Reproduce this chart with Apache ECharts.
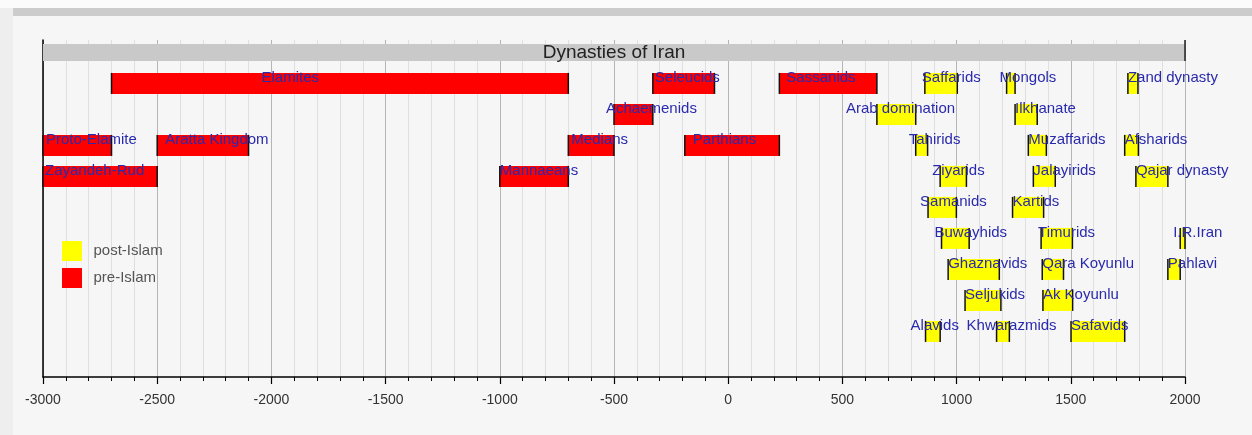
<!DOCTYPE html>
<html>
<head>
<meta charset="utf-8">
<script src="https://cdn.jsdelivr.net/npm/echarts@6/dist/echarts.min.js"></script>
<style>
html,body{margin:0;padding:0;background:#f6f6f6;}
#chart{width:1252px;height:435px;}
</style>
</head>
<body>
<div id="chart"></div>
<script>
// ---- Data ----
const chartTitle = 'Dynasties of Iran';
const periodStart = -3000;
const periodEnd = 2000;

const preNames = ['Proto-Elamite','Zayandeh-Rud','Aratta Kingdom','Elamites','Mannaeans','Medians','Achaemenids','Seleucids','Parthians','Sassanids'];
const preStart = [-3000, -3000, -2500, -2700, -1000, -700, -500, -330, -190, 224];
const preEnd   = [-2700, -2500, -2100, -700, -700, -500, -330, -60, 224, 651];
const preRow   = [3, 4, 3, 1, 4, 3, 2, 1, 3, 1];

const postNames = ['Arab domination','Tahirids','Saffarids','Alavids','Samanids','Ziyarids','Buwayhids','Ghaznavids','Seljukids','Khwarazmids','Mongols','Ilkhanate','Kartids','Muzaffarids','Jalayirids','Timurids','Qara Koyunlu','Ak Koyunlu','Safavids','Afsharids','Zand dynasty','Qajar dynasty','Pahlavi','I.R.Iran'];
const postStart = [651, 821, 861, 864, 875, 928, 934, 963, 1037, 1175, 1219, 1256, 1245, 1314, 1336, 1370, 1375, 1378, 1501, 1736, 1750, 1785, 1925, 1979];
const postEnd   = [821, 873, 1003, 928, 999, 1043, 1055, 1187, 1194, 1231, 1256, 1353, 1381, 1393, 1432, 1507, 1468, 1508, 1736, 1796, 1794, 1925, 1979, 2000];
const postRow   = [2, 3, 1, 9, 5, 4, 6, 7, 8, 9, 1, 2, 5, 3, 4, 6, 7, 8, 9, 3, 1, 4, 7, 6];

const legendNames = ['post-Islam', 'pre-Islam'];

// ---- Label placement (pixel shift of text relative to bar start) ----
const labelShiftPx = {
  'Proto-Elamite': 3, 'Zayandeh-Rud': 2, 'Aratta Kingdom': 8, 'Elamites': 150,
  'Medians': 3, 'Achaemenids': -8, 'Seleucids': 2, 'Parthians': 8, 'Sassanids': 7,
  'Arab domination': -31, 'Tahirids': -7, 'Saffarids': -3, 'Ziyarids': -8,
  'Samanids': -8, 'Buwayhids': -7, 'Alavids': -15, 'Khwarazmids': -30,
  'Mongols': -7, 'Timurids': -3, 'I.R.Iran': -7
};

const FONT = '"Liberation Sans", Arial, Helvetica, sans-serif';
const LABEL_COLOR = '#2a2aad';

function makeRender(names, fill) {
  return function (params, api) {
    const s = api.coord([api.value(0), api.value(2)]);
    const e = api.coord([api.value(1), api.value(2)]);
    const rowH = api.size([0, 1])[1];
    const h = rowH * 21 / 31;
    const top = s[1] - h / 2;
    const name = names[params.dataIndex];
    const shift = labelShiftPx[name] || 0;
    return {
      type: 'group',
      children: [
        { type: 'rect', shape: { x: s[0], y: top, width: e[0] - s[0], height: h }, style: { fill: fill }, z2: 1 },
        { type: 'line', shape: { x1: s[0], y1: top, x2: s[0], y2: top + h }, style: { stroke: '#111', lineWidth: 1.5 }, z2: 2 },
        { type: 'line', shape: { x1: e[0], y1: top, x2: e[0], y2: top + h }, style: { stroke: '#111', lineWidth: 1.5 }, z2: 2 },
        { type: 'text', x: s[0] + shift, y: s[1] - rowH * 5.5 / 31,
          style: { text: name, fill: LABEL_COLOR, font: '15px ' + FONT, textAlign: 'left', textVerticalAlign: 'middle' }, z2: 100 }
      ]
    };
  };
}

function renderTitle(params, api) {
  const s = api.coord([api.value(0), api.value(2)]);
  const e = api.coord([api.value(1), api.value(2)]);
  const rowH = api.size([0, 1])[1];
  const h = rowH * 17 / 31;
  const top = s[1] - h / 2;
  return {
    type: 'group',
    children: [
      { type: 'rect', shape: { x: s[0], y: top, width: e[0] - s[0], height: h }, style: { fill: '#c9c9c9' }, z2: 1 },
      { type: 'line', shape: { x1: e[0], y1: top - 4, x2: e[0], y2: top + h }, style: { stroke: '#222', lineWidth: 1.5 }, z2: 2 },
      { type: 'text', x: (s[0] + e[0]) / 2, y: s[1],
        style: { text: chartTitle, fill: '#222', font: '19px ' + FONT, textAlign: 'center', textVerticalAlign: 'middle' }, z2: 100 }
    ]
  };
}

const chart = echarts.init(document.getElementById('chart'), null, { renderer: 'canvas' });
chart.setOption({
  backgroundColor: '#f6f6f6',
  animation: false,
  graphic: [
    { type: 'rect', left: 0, top: 0, shape: { width: 1252, height: 8 }, style: { fill: '#fbfbfb' }, silent: true, z: -10 },
    { type: 'rect', left: 13, top: 8, shape: { width: 1239, height: 8 }, style: { fill: '#cccccc' }, silent: true, z: -10 },
    { type: 'rect', left: 0, top: 8, shape: { width: 13, height: 427 }, style: { fill: '#eeeeee' }, silent: true, z: -10 }
  ],
  grid: { left: 43, right: 67, top: 40, bottom: 58, containLabel: false },
  legend: {
    data: legendNames,
    orient: 'vertical',
    left: 57, top: 236,
    itemWidth: 20, itemHeight: 20, itemGap: 7,
    icon: 'rect',
    textStyle: { fontSize: 15, color: '#555', fontFamily: FONT, padding: [0, 0, 0, 6.5] },
    selectedMode: false
  },
  xAxis: {
    type: 'value',
    min: periodStart, max: periodEnd, interval: 500,
    axisLine: { show: true, onZero: false, lineStyle: { color: '#000', width: 1.5 } },
    axisTick: { show: true, length: 7, lineStyle: { color: '#000', width: 1.2 } },
    minorTick: { show: true, splitNumber: 5, length: 4, lineStyle: { color: '#000', width: 1 } },
    splitLine: { show: true, lineStyle: { color: '#b5b5b5', width: 1 } },
    minorSplitLine: { show: true, lineStyle: { color: '#dfdfdf', width: 1 } },
    axisLabel: { fontSize: 14, color: '#333', fontFamily: FONT, margin: 16, formatter: v => String(v) }
  },
  yAxis: {
    type: 'value',
    inverse: true,
    min: -0.4, max: 10.47,
    axisLine: { show: true, onZero: false, lineStyle: { color: '#000', width: 1.5 } },
    axisTick: { show: false },
    axisLabel: { show: false },
    splitLine: { show: false }
  },
  series: [
    {
      name: 'title', type: 'custom', renderItem: renderTitle,
      data: [[periodStart, periodEnd, 0]], silent: true
    },
    {
      name: 'pre-Islam', type: 'custom', renderItem: makeRender(preNames, '#ff0000'),
      itemStyle: { color: '#ff0000' },
      data: preNames.map((n, i) => [preStart[i], preEnd[i], preRow[i]]),
      silent: true
    },
    {
      name: 'post-Islam', type: 'custom', renderItem: makeRender(postNames, '#ffff00'),
      itemStyle: { color: '#ffff00' },
      data: postNames.map((n, i) => [postStart[i], postEnd[i], postRow[i]]),
      silent: true
    }
  ]
});
</script>
</body>
</html>
